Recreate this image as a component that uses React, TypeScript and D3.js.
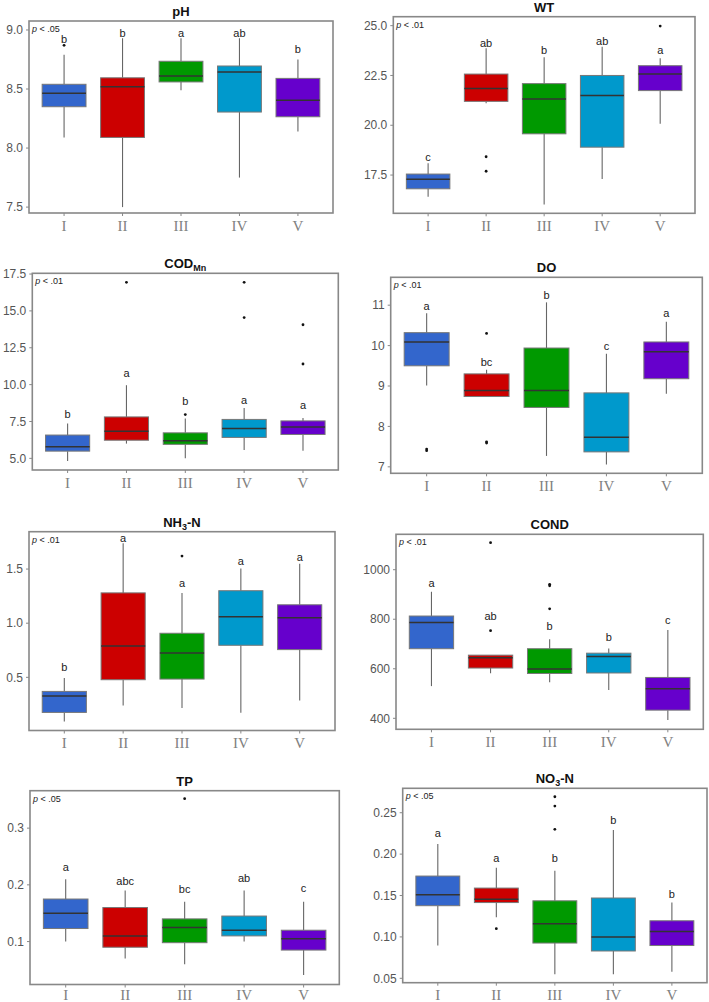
import React from "react";
import * as d3 from "d3";

// ---------- data ----------
const categories = ["I", "II", "III", "IV", "V"];
const boxColors = ["#3366CC", "#CC0000", "#009900", "#0099CC", "#6600CC"];

// box stats per category: [lower whisker, Q1, median, Q3, upper whisker]
const pHBoxes = [
  [8.09, 8.35, 8.465, 8.54, 8.79],
  [7.5, 8.09, 8.52, 8.595, 8.93],
  [8.49, 8.56, 8.61, 8.735, 8.93],
  [7.75, 8.305, 8.645, 8.695, 8.93],
  [8.14, 8.265, 8.405, 8.59, 8.75],
];
const pHOutliers = [[8.87], [], [], [], []];
const pHLetters = ["b", "b", "a", "ab", "b"];
const pHLetterY = [8.92, 8.97, 8.97, 8.97, 8.84];

const wtBoxes = [
  [16.41, 16.81, 17.29, 17.55, 18.09],
  [21.1, 21.2, 21.85, 22.57, 23.86],
  [16.02, 19.57, 21.32, 22.09, 23.42],
  [17.3, 18.9, 21.5, 22.5, 23.94],
  [20.07, 21.74, 22.57, 22.99, 23.36],
];
const wtOutliers = [[], [18.42, 17.69], [], [], [24.98]];
const wtLetters = ["c", "ab", "b", "ab", "a"];
const wtLetterY = [18.39, 24.1, 23.78, 24.2, 23.78];

const codBoxes = [
  [4.82, 5.49, 5.79, 6.58, 7.36],
  [6.0, 6.23, 6.84, 7.81, 9.96],
  [5.0, 5.95, 6.19, 6.73, 7.7],
  [5.56, 6.42, 7.03, 7.64, 8.42],
  [5.52, 6.62, 7.13, 7.54, 7.74],
];
const codOutliers = [[], [16.94], [7.97], [16.94, 14.55], [14.06, 11.4]];
const codLetters = ["b", "a", "b", "a", "a"];
const codLetterY = [7.99, 10.8, 8.9, 8.95, 8.6];

const doBoxes = [
  [9.01, 9.5, 10.09, 10.32, 10.8],
  [8.74, 8.74, 8.89, 9.3, 9.4],
  [7.27, 8.47, 8.89, 9.94, 11.07],
  [7.06, 7.37, 7.73, 8.83, 9.8],
  [8.81, 9.18, 9.85, 10.09, 10.59],
];
const doOutliers = [[7.44, 7.4], [10.3, 7.62, 7.59], [], [], []];
const doLetters = ["a", "bc", "b", "c", "a"];
const doLetterY = [10.97, 9.58, 11.26, 9.98, 10.8];

const nh3Boxes = [
  [0.093, 0.176, 0.327, 0.37, 0.494],
  [0.24, 0.478, 0.79, 1.28, 1.738],
  [0.216, 0.484, 0.725, 0.907, 1.28],
  [0.173, 0.796, 1.06, 1.3, 1.506],
  [0.287, 0.756, 1.05, 1.17, 1.55],
];
const nh3Outliers = [[], [], [1.62], [], []];
const nh3Letters = ["b", "a", "a", "a", "a"];
const nh3LetterY = [0.59, 1.79, 1.37, 1.57, 1.61];

const condBoxes = [
  [530, 681, 787, 813, 911],
  [582, 603, 645, 655, 655],
  [546, 581, 599, 681, 719],
  [514, 583, 650, 663, 682],
  [393, 433, 519, 565, 757],
];
const condOutliers = [[], [1109, 754], [941, 935, 842], [], []];
const condLetters = ["a", "ab", "b", "b", "c"];
const condLetterY = [946, 814, 773, 727, 797];

const tpBoxes = [
  [0.1, 0.123, 0.15, 0.175, 0.21],
  [0.07, 0.09, 0.11, 0.16, 0.19],
  [0.06, 0.098, 0.125, 0.14, 0.17],
  [0.1, 0.11, 0.12, 0.145, 0.19],
  [0.041, 0.085, 0.105, 0.12, 0.17],
];
const tpOutliers = [[], [], [0.352], [], []];
const tpLetters = ["a", "abc", "bc", "ab", "c"];
const tpLetterY = [0.232, 0.206, 0.192, 0.212, 0.195];

const no3Boxes = [
  [0.0896, 0.1377, 0.151, 0.1735, 0.2122],
  [0.1238, 0.1415, 0.1455, 0.159, 0.1836],
  [0.0548, 0.0926, 0.116, 0.1436, 0.18],
  [0.0548, 0.083, 0.1, 0.147, 0.229],
  [0.058, 0.0896, 0.1064, 0.1195, 0.1415],
];
const no3Outliers = [[], [0.11], [0.2693, 0.258, 0.23], [], []];
const no3Letters = ["a", "a", "b", "b", "b"];
const no3LetterY = [0.225, 0.195, 0.195, 0.241, 0.152];

// tick values
const pHTicks = [7.5, 8.0, 8.5, 9.0];
const wtTicks = [17.5, 20.0, 22.5, 25.0];
const codTicks = [5.0, 7.5, 10.0, 12.5, 15.0, 17.5];
const doTicks = [7, 8, 9, 10, 11];
const nh3Ticks = [0.5, 1.0, 1.5];
const condTicks = [400, 600, 800, 1000];
const tpTicks = [0.1, 0.2, 0.3];
const no3Ticks = [0.05, 0.1, 0.15, 0.2, 0.25];

// ---------- panel layout ----------
type Panel = {
  title: string;
  sub?: string;
  after?: string;
  p: string;
  boxes: number[][];
  outliers: number[][];
  letters: string[];
  letterY: number[];
  ticks: number[];
  fmt: string;
  domain: [number, number];
  box: [number, number, number, number]; // left, top, right, bottom
};

const panels: Panel[] = [
  { title: "pH", p: " < .05", boxes: pHBoxes, outliers: pHOutliers, letters: pHLetters, letterY: pHLetterY, ticks: pHTicks, fmt: ".1f", domain: [7.45, 9.076], box: [29, 21, 333, 213] },
  { title: "WT", p: " < .01", boxes: wtBoxes, outliers: wtOutliers, letters: wtLetters, letterY: wtLetterY, ticks: wtTicks, fmt: ".1f", domain: [15.58, 25.45], box: [393.3, 16.7, 695, 213.3] },
  { title: "COD", sub: "Mn", p: " < .01", boxes: codBoxes, outliers: codOutliers, letters: codLetters, letterY: codLetterY, ticks: codTicks, fmt: ".1f", domain: [4.21, 17.55], box: [32.3, 273.3, 338.3, 470] },
  { title: "DO", p: " < .01", boxes: doBoxes, outliers: doOutliers, letters: doLetters, letterY: doLetterY, ticks: doTicks, fmt: "d", domain: [6.84, 11.69], box: [390.7, 277.3, 702.3, 473.3] },
  { title: "NH", sub: "3", after: "-N", p: " < .01", boxes: nh3Boxes, outliers: nh3Outliers, letters: nh3Letters, letterY: nh3LetterY, ticks: nh3Ticks, fmt: ".1f", domain: [0.009, 1.845], box: [29, 531.7, 335, 730.5] },
  { title: "COND", p: " < .01", boxes: condBoxes, outliers: condOutliers, letters: condLetters, letterY: condLetterY, ticks: condTicks, fmt: "d", domain: [355.6, 1143], box: [396, 534.3, 703.3, 729.3] },
  { title: "TP", p: " < .05", boxes: tpBoxes, outliers: tpOutliers, letters: tpLetters, letterY: tpLetterY, ticks: tpTicks, fmt: ".1f", domain: [0.0243, 0.366], box: [30, 790.7, 339.3, 984.5] },
  { title: "NO", sub: "3", after: "-N", p: " < .05", boxes: no3Boxes, outliers: no3Outliers, letters: no3Letters, letterY: no3LetterY, ticks: no3Ticks, fmt: ".2f", domain: [0.0447, 0.2795], box: [402.7, 788.3, 707, 982.7] },
];

const SANS = "'Liberation Sans', Arial, sans-serif";
const SERIF = "'Liberation Serif', 'Times New Roman', serif";
const H = 1002;

function BoxPanel({ pn }: { pn: Panel }) {
  const [l, t, r, b] = pn.box;
  const x = d3.scaleLinear().domain([0.4, 5.6]).range([l, r]);
  const y = d3.scaleLinear().domain(pn.domain).range([b, t]);
  const bw = x(1.375) - x(1);
  const f = d3.format(pn.fmt);
  const labelY = Math.min(b + 17.5, H - 2);
  return (
    <g>
      <text x={(l + r) / 2} y={t - 5} textAnchor="middle" fontFamily={SANS} fontWeight="bold" fontSize={13} fill="#111">
        {pn.title}
        {pn.sub && (
          <tspan fontSize={9} dy={3}>{pn.sub}</tspan>
        )}
        {pn.after && <tspan dy={-3}>{pn.after}</tspan>}
      </text>
      {pn.boxes.map((s, i) => {
        const cx = x(i + 1);
        return (
          <g key={i}>
            <line x1={cx} x2={cx} y1={y(s[4])} y2={y(s[3])} stroke="#666" strokeWidth={1.1} />
            <line x1={cx} x2={cx} y1={y(s[1])} y2={y(s[0])} stroke="#666" strokeWidth={1.1} />
            <rect x={cx - bw} y={y(s[3])} width={bw * 2} height={y(s[1]) - y(s[3])} fill={boxColors[i]} stroke="#777" strokeWidth={1} />
            <line x1={cx - bw} x2={cx + bw} y1={y(s[2])} y2={y(s[2])} stroke="#333" strokeWidth={1.5} />
            {pn.outliers[i].map((o, k) => (
              <circle key={k} cx={cx} cy={y(o)} r={1.4} fill="#111" />
            ))}
            <text x={cx} y={y(pn.letterY[i])} dy="0.35em" textAnchor="middle" fontFamily={SANS} fontSize={11} fill="#222">
              {pn.letters[i]}
            </text>
            <line x1={cx} x2={cx} y1={b} y2={b + 3} stroke="#888" />
            <text x={cx} y={labelY} textAnchor="middle" fontFamily={SERIF} fontSize={15} fill="#808080">
              {categories[i]}
            </text>
          </g>
        );
      })}
      {pn.ticks.map((tv) => (
        <g key={tv}>
          <line x1={l - 3} x2={l} y1={y(tv)} y2={y(tv)} stroke="#888" />
          <text x={l - 6} y={y(tv)} dy="0.35em" textAnchor="end" fontFamily={SANS} fontSize={12} fill="#555">
            {f(tv)}
          </text>
        </g>
      ))}
      <rect x={l} y={t} width={r - l} height={b - t} fill="none" stroke="#888" strokeWidth={1.6} />
      <text x={l + 3} y={t + 11} fontFamily={SANS} fontSize={9} fill="#222">
        <tspan fontStyle="italic">p</tspan>
        {pn.p}
      </text>
    </g>
  );
}

export default function App() {
  return (
    <svg width={709} height={H} style={{ position: "absolute", left: 0, top: 0, background: "#fff" }}>
      <rect width={709} height={H} fill="#fff" />
      {panels.map((pn, i) => (
        <BoxPanel key={i} pn={pn} />
      ))}
    </svg>
  );
}
